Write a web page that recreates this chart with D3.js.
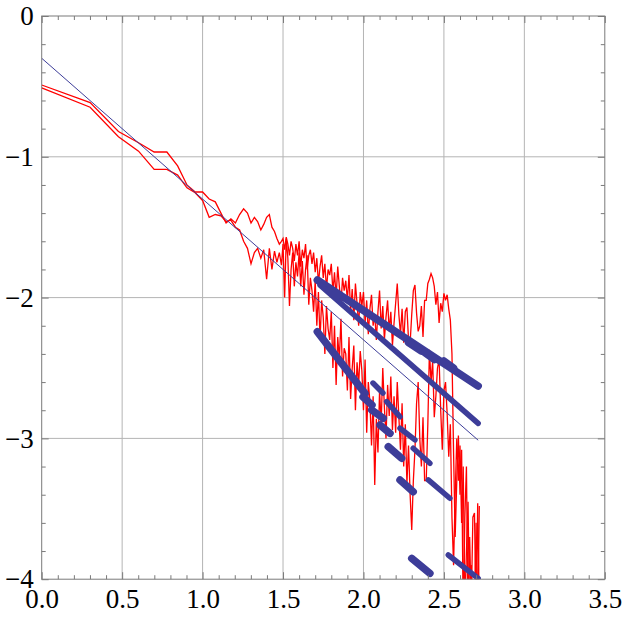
<!DOCTYPE html>
<html>
<head>
<meta charset="utf-8">
<script src="https://cdn.jsdelivr.net/npm/d3@7"></script>
<style>
body { margin: 0; background: #fff; }
svg text { font-family: "Liberation Serif", "Times New Roman", serif; }
</style>
</head>
<body>
<svg id="chart" width="623" height="619"></svg>
<script>
var X_MAJOR = [0, 0.5, 1, 1.5, 2, 2.5, 3, 3.5];
var Y_MAJOR = [0, -1, -2, -3, -4];
var X_GRID = [0.5, 1, 1.5, 2, 2.5, 3];
var Y_GRID = [-1, -2, -3];

// straight reference line (thin blue)
var FIT_X = [0, 2.713];
var FIT_Y = [-0.3, -3.013];

// red series, first part at log10(n), n = 1..30
var LOW_X = [0, 0.301, 0.477, 0.602, 0.699, 0.778, 0.845, 0.903, 0.954, 1.0,
    1.041, 1.079, 1.114, 1.146, 1.176, 1.204, 1.230, 1.255, 1.279, 1.301,
    1.322, 1.342, 1.362, 1.380, 1.398, 1.415, 1.431, 1.447, 1.462, 1.477];
var LOW_A = [-0.49, -0.615, -0.82, -0.90, -0.966, -0.966, -1.065, -1.20, -1.25, -1.25,
    -1.30, -1.32, -1.40, -1.47, -1.44, -1.47, -1.41, -1.37, -1.40, -1.47,
    -1.43, -1.46, -1.52, -1.48, -1.43, -1.41, -1.50, -1.53, -1.58, -1.62];
var LOW_B = [-0.51, -0.648, -0.857, -0.96, -1.089, -1.089, -1.13, -1.22, -1.255, -1.31,
    -1.43, -1.41, -1.42, -1.46, -1.45, -1.50, -1.52, -1.60, -1.65, -1.76,
    -1.68, -1.65, -1.72, -1.66, -1.87, -1.65, -1.80, -1.67, -1.75, -1.68];

// red series, dense tail
var DENSE_X = [1.49, 1.50, 1.51, 1.52, 1.53, 1.54, 1.55, 1.56, 1.57, 1.58,
    1.59, 1.60, 1.61, 1.62, 1.63, 1.64, 1.65, 1.66, 1.67, 1.68,
    1.69, 1.70, 1.71, 1.72, 1.73, 1.74, 1.75, 1.76, 1.77, 1.78,
    1.79, 1.80, 1.81, 1.82, 1.83, 1.84, 1.85, 1.86, 1.87, 1.88,
    1.89, 1.90, 1.91, 1.92, 1.93, 1.94, 1.95, 1.96, 1.97, 1.98,
    1.99, 2.00, 2.01, 2.02, 2.03, 2.04, 2.05, 2.06, 2.07, 2.08,
    2.09, 2.10, 2.11, 2.12, 2.13, 2.14, 2.15, 2.16, 2.17, 2.18,
    2.19, 2.20, 2.21, 2.22, 2.23, 2.24, 2.25, 2.26, 2.27, 2.28,
    2.29, 2.30, 2.31, 2.32, 2.33, 2.34, 2.35, 2.36, 2.37, 2.38,
    2.39, 2.40, 2.41, 2.42, 2.43, 2.44, 2.45, 2.46, 2.47, 2.48,
    2.49, 2.50, 2.51, 2.52, 2.53, 2.54, 2.55, 2.56, 2.57, 2.58,
    2.59, 2.60, 2.61, 2.62, 2.63, 2.64, 2.65, 2.66, 2.67, 2.68,
    2.69, 2.70, 2.71, 2.72];
var DENSE_A = [-1.60, -1.58, -1.66, -1.57, -1.62, -1.70, -1.60, -1.65, -1.74, -1.62,
    -1.70, -1.60, -1.78, -1.66, -1.72, -1.62, -1.80, -1.70, -1.66, -1.76,
    -1.68, -1.82, -1.72, -1.90, -1.78, -1.70, -1.86, -1.76, -1.94, -1.80,
    -1.84, -1.76, -1.96, -1.82, -2.00, -1.78, -1.92, -2.05, -1.86, -1.95,
    -1.88, -2.02, -1.84, -2.10, -1.94, -2.16, -1.90, -2.04, -2.20, -1.96,
    -2.06, -1.96, -2.18, -2.02, -2.26, -2.08, -1.98, -2.20, -2.12, -2.30,
    -2.10, -1.95, -2.22, -2.06, -2.30, -2.14, -2.02, -2.24, -2.10, -2.34,
    -2.18, -2.04, -1.90, -2.12, -2.26, -2.08, -2.32, -2.10, -2.07, -2.30,
    -2.32, -2.12, -1.95, -1.91, -2.11, -2.24, -2.20, -2.06, -2.28, -2.02,
    -2.02, -1.90, -1.87, -1.83, -1.86, -1.92, -2.05, -1.96, -2.18, -2.04,
    -2.10, -1.97, -2.02, -1.98, -2.08, -2.16, -2.40, -3.10, -3.70, -3.30,
    -2.98, -3.40, -3.08, -4.30, -3.56, -3.20, -4.30, -3.70, -4.20, -3.56,
    -3.53, -4.30, -3.46, -4.20];
var DENSE_B = [-1.77, -1.62, -2.00, -1.58, -1.72, -2.06, -1.80, -1.68, -1.92, -1.75,
    -1.85, -1.68, -1.92, -1.74, -1.98, -1.80, -1.70, -2.05, -1.86, -1.95,
    -2.10, -1.88, -2.20, -1.96, -2.30, -2.02, -2.14, -2.40, -2.06, -2.22,
    -2.30, -2.10, -2.50, -2.20, -2.62, -2.28, -2.44, -2.15, -2.56, -2.36,
    -2.40, -2.66, -2.28, -2.72, -2.50, -2.34, -2.80, -2.46, -2.62, -2.38,
    -2.52, -2.80, -2.44, -2.96, -2.60, -2.74, -3.05, -2.70, -3.33, -2.86,
    -3.10, -2.66, -2.90, -2.50, -2.78, -3.00, -2.62, -2.84, -2.56, -2.94,
    -2.70, -2.96, -2.60, -2.85, -3.08, -2.75, -3.20, -2.90, -3.32, -3.05,
    -3.40, -3.65, -3.30, -3.08, -2.75, -2.60, -3.00, -3.20, -2.85, -3.30,
    -3.30, -2.90, -2.37, -2.60, -2.45, -2.85, -2.70, -2.50, -2.44, -2.80,
    -3.08, -2.66, -2.60, -2.82, -3.13, -2.90, -3.56, -3.90, -3.40, -3.00,
    -3.30, -3.05, -3.60, -3.20, -4.20, -3.80, -3.45, -4.30, -3.90, -4.30,
    -4.30, -3.60, -4.30, -3.48];

// thick blue runs: [x1, y1, x2, y2]
var BLUE_HEAVY = [
    [1.713, -1.875, 2.713, -2.628],
    [2.28, -2.32, 2.36, -2.38],
    [2.38, -2.39, 2.44, -2.44],
    [2.50, -2.45, 2.56, -2.50],
    [1.713, -2.242, 2.009, -2.680],
    [1.997, -2.706, 2.053, -2.763],
    [2.051, -2.798, 2.123, -2.857],
    [2.103, -2.905, 2.165, -2.964],
    [2.154, -3.059, 2.237, -3.141],
    [2.227, -3.295, 2.309, -3.379],
    [2.300, -3.852, 2.413, -3.958]
];
var BLUE_MEDIUM = [
    [1.730, -1.911, 2.713, -2.893],
    [2.059, -2.607, 2.121, -2.678],
    [2.144, -2.739, 2.227, -2.846],
    [2.227, -2.928, 2.320, -3.011],
    [2.309, -3.070, 2.413, -3.177],
    [2.403, -3.295, 2.537, -3.425],
    [2.527, -3.828, 2.713, -3.994]
];

var W = 623, H = 619;
var svg = d3.select("#chart");

var x = d3.scaleLinear().domain([0, 3.5]).range([41.7, 604.8]);
var y = d3.scaleLinear().domain([-4, 0]).range([579.2, 16]);

var frameColor = "#7a7a7a";
var gridColor = "#b4b4b4";
var blue = "#3d3d99";

svg.append("defs").append("clipPath").attr("id", "plotclip")
    .append("rect")
    .attr("x", x(0)).attr("y", y(0))
    .attr("width", x(3.5) - x(0)).attr("height", y(-4) - y(0));

// grid
svg.append("g").selectAll("line").data(X_GRID).enter().append("line")
    .attr("x1", d => x(d)).attr("x2", d => x(d))
    .attr("y1", y(0)).attr("y2", y(-4))
    .attr("stroke", gridColor).attr("stroke-width", 1);
svg.append("g").selectAll("line").data(Y_GRID).enter().append("line")
    .attr("y1", d => y(d)).attr("y2", d => y(d))
    .attr("x1", x(0)).attr("x2", x(3.5))
    .attr("stroke", gridColor).attr("stroke-width", 1);

let plot = svg.append("g").attr("clip-path", "url(#plotclip)");

// red series
function redSeries(ys) {
    let xs = LOW_X.concat(DENSE_X);
    return xs.map((v, i) => [v, ys[i]]);
}
let line = d3.line().x(d => x(d[0])).y(d => y(d[1]));
for (let s of [LOW_A.concat(DENSE_A), LOW_B.concat(DENSE_B)]) {
    plot.append("path")
        .datum(redSeries(s))
        .attr("fill", "none")
        .attr("stroke", "#ff0000")
        .attr("stroke-width", 1.3)
        .attr("stroke-linejoin", "miter")
        .attr("d", line);
}

// thin fit line
plot.append("line")
    .attr("x1", x(FIT_X[0])).attr("y1", y(FIT_Y[0]))
    .attr("x2", x(FIT_X[1])).attr("y2", y(FIT_Y[1]))
    .attr("stroke", blue).attr("stroke-width", 1);

function drawRuns(runs, width) {
    plot.append("g").selectAll("line").data(runs).enter().append("line")
        .attr("x1", d => x(d[0])).attr("y1", d => y(d[1]))
        .attr("x2", d => x(d[2])).attr("y2", d => y(d[3]))
        .attr("stroke", blue)
        .attr("stroke-width", width)
        .attr("stroke-linecap", "round");
}
drawRuns(BLUE_HEAVY, 7.5);
drawRuns(BLUE_MEDIUM, 5.5);

// frame
svg.append("rect")
    .attr("x", x(0)).attr("y", y(0))
    .attr("width", x(3.5) - x(0)).attr("height", y(-4) - y(0))
    .attr("fill", "none").attr("stroke", frameColor).attr("stroke-width", 1);

// ticks, pointing inward on all sides
var xMinor = d3.range(0, 3.51, 0.1).filter(v => Math.abs(v * 2 - Math.round(v * 2)) > 1e-6);
var yMinor = d3.range(-4, 0.01, 0.2).filter(v => Math.abs(v - Math.round(v)) > 1e-6);

function styleAxis(g) {
    g.select(".domain").remove();
    g.selectAll(".tick line").attr("stroke", frameColor);
    g.selectAll("text").attr("fill", "#000").style("font-size", "27px")
        .style("font-family", "'Liberation Serif', 'Times New Roman', serif");
}

svg.append("g").attr("transform", `translate(0,${y(-4)})`)
    .call(d3.axisBottom(x).tickValues(X_MAJOR).tickSize(-7).tickPadding(10).tickFormat(d3.format(".1f")))
    .call(styleAxis);
svg.append("g").attr("transform", `translate(0,${y(-4)})`)
    .call(d3.axisBottom(x).tickValues(xMinor).tickSize(-4).tickFormat(""))
    .call(styleAxis);
svg.append("g").attr("transform", `translate(0,${y(0)})`)
    .call(d3.axisTop(x).tickValues(X_MAJOR).tickSize(-7).tickFormat(""))
    .call(styleAxis);
svg.append("g").attr("transform", `translate(0,${y(0)})`)
    .call(d3.axisTop(x).tickValues(xMinor).tickSize(-4).tickFormat(""))
    .call(styleAxis);

svg.append("g").attr("transform", `translate(${x(0)},0)`)
    .call(d3.axisLeft(y).tickValues(Y_MAJOR).tickSize(-7).tickPadding(8).tickFormat(d3.format("d")))
    .call(styleAxis);
svg.append("g").attr("transform", `translate(${x(0)},0)`)
    .call(d3.axisLeft(y).tickValues(yMinor).tickSize(-4).tickFormat(""))
    .call(styleAxis);
svg.append("g").attr("transform", `translate(${x(3.5)},0)`)
    .call(d3.axisRight(y).tickValues(Y_MAJOR).tickSize(-7).tickFormat(""))
    .call(styleAxis);
svg.append("g").attr("transform", `translate(${x(3.5)},0)`)
    .call(d3.axisRight(y).tickValues(yMinor).tickSize(-4).tickFormat(""))
    .call(styleAxis);
</script>
</body>
</html>
